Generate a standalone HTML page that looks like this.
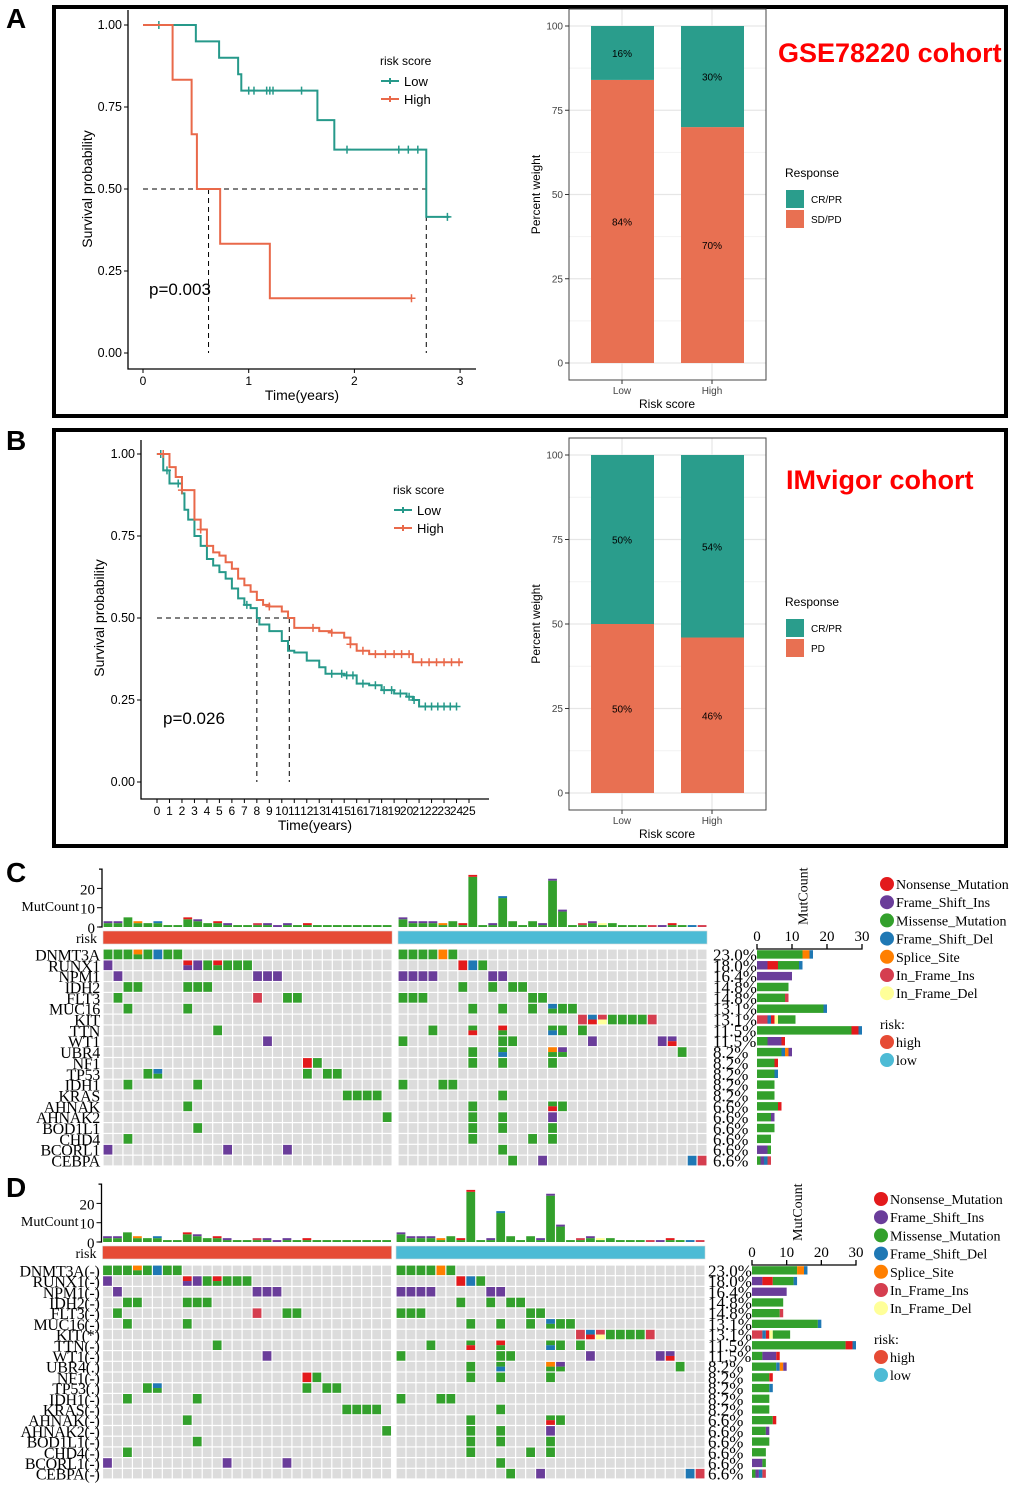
<!DOCTYPE html>
<html><head><meta charset="utf-8"><style>
body{margin:0;background:#fff;}
svg{display:block;}
.sans{font-family:"Liberation Sans",Arial,sans-serif;}
.serif{font-family:"Liberation Serif","Times New Roman",serif;}
</style></head>
<body>
<svg id="fig" width="1020" height="1491" viewBox="0 0 1020 1491" xmlns="http://www.w3.org/2000/svg">
<rect x="0" y="0" width="1020" height="1491" fill="#fff"/>
<rect x="54" y="7" width="952" height="409" fill="none" stroke="#000" stroke-width="4"/>
<rect x="54" y="430" width="952" height="416" fill="none" stroke="#000" stroke-width="4"/>
<text x="6" y="28" class="sans" font-size="28" font-weight="bold">A</text>
<text x="6" y="450" class="sans" font-size="28" font-weight="bold">B</text>
<text x="6" y="882" class="sans" font-size="28" font-weight="bold">C</text>
<text x="6" y="1197" class="sans" font-size="28" font-weight="bold">D</text>
<text x="778" y="62" class="sans" font-size="27" font-weight="bold" fill="#f00">GSE78220 cohort</text>
<text x="786" y="489" class="sans" font-size="27" font-weight="bold" fill="#f00">IMvigor cohort</text>
<g id="root"></g>
</svg>
<script>
// ---------- DATA ----------
const kmA_lowT=[0,0.5,0.72,0.9,0.93,1.65,1.81,2.68,2.9];
const kmA_lowS=[1,0.95,0.9,0.85,0.8,0.71,0.62,0.415,0.415];
const kmA_lowCensT=[0.15,1.0,1.05,1.17,1.2,1.23,1.5,1.93,2.42,2.51,2.6,2.88];
const kmA_highT=[0,0.28,0.46,0.51,0.73,1.2,2.54];
const kmA_highS=[1,0.833,0.667,0.5,0.333,0.167,0.167];
const kmA_highCensT=[2.54];
const kmA_medians=[0.62,2.68];
const kmA_xticks=[0,1,2,3];
const kmB_lowT=[0,0.5,1,2,2.2,2.5,3,3.5,4,4.5,5,5.5,6,6.5,7,7.5,8,8.2,9,10,10.5,11,12,13,13.5,15,16,17,18,19,20,20.5,21,24];
const kmB_lowS=[1,0.95,0.91,0.88,0.83,0.8,0.75,0.72,0.68,0.66,0.64,0.62,0.59,0.56,0.54,0.53,0.5,0.48,0.46,0.43,0.40,0.395,0.37,0.35,0.33,0.325,0.30,0.295,0.28,0.27,0.26,0.25,0.23,0.23];
const kmB_lowCensT=[0.3,0.8,1.7,7.2,14,14.8,15.2,15.7,16.5,17.5,18.2,18.8,19.5,20.2,20.6,21.5,22,22.5,23,23.5,24];
const kmB_highT=[0,1,1.5,2,3,3.5,4,4.5,5,5.5,6,6.5,7,7.5,8,8.5,9,10,10.5,11,12,13,14,15,15.5,16,17,20,20.5,24.5];
const kmB_highS=[1,0.96,0.93,0.89,0.8,0.77,0.72,0.70,0.69,0.67,0.65,0.62,0.6,0.58,0.555,0.54,0.535,0.52,0.5,0.47,0.47,0.46,0.455,0.44,0.42,0.40,0.39,0.39,0.365,0.365];
const kmB_highCensT=[0.5,2,3.5,9,12.5,14,15.5,16.5,17.5,18.3,19,19.6,20.2,21.2,21.8,22.4,23,23.6,24.2];
const kmB_medians=[8,10.6];
const kmB_xticks=[0,1,2,3,4,5,6,7,8,9,10,11,12,13,14,15,16,17,18,19,20,21,22,23,24,25];
const ytickKM=[0,0.25,0.5,0.75,1];
const barCats=["Low","High"];
const barA_cr=[16,30], barA_sd=[84,70];
const barB_cr=[50,54], barB_pd=[50,46];
const barTicks=[0,25,50,75,100];
const genes=["DNMT3A","RUNX1","NPM1","IDH2","FLT3","MUC16","KIT","TTN","WT1","UBR4","NF1","TP53","IDH1","KRAS","AHNAK","AHNAK2","BOD1L1","CHD4","BCORL1","CEBPA"];
const genesD=["DNMT3A(-)","RUNX1(-)","NPM1(-)","IDH2(-)","FLT3(-)","MUC16(-)","KIT(*)","TTN(-)","WT1(-)","UBR4(.)","NF1(-)","TP53(.)","IDH1(-)","KRAS(-)","AHNAK(-)","AHNAK2(-)","BOD1L1(-)","CHD4(-)","BCORL1(-)","CEBPA(-)"];
const pcts=["23.0%","18.0%","16.4%","14.8%","14.8%","13.1%","13.1%","11.5%","11.5%","8.2%","8.2%","8.2%","8.2%","8.2%","6.6%","6.6%","6.6%","6.6%","6.6%","6.6%"];
const highMut=[
{0:"M",1:"M",2:"M",3:"SM",4:"M",5:"D",6:"M",7:"M"},
{0:"F",8:"NF",9:"F",10:"M",11:"NM",12:"M",13:"M",14:"M"},
{1:"F",15:"F",16:"F",17:"F"},
{2:"M",3:"M",8:"M",9:"M",10:"M"},
{1:"M",15:"I",18:"M",19:"M"},
{2:"M",8:"M"},
{},
{11:"M"},
{16:"F"},
{},
{20:"N",21:"M"},
{4:"M",5:"DM",20:"M",22:"M",23:"M"},
{2:"M",9:"M"},
{24:"M",25:"M",26:"M",27:"M"},
{8:"M"},
{28:"M"},
{9:"M"},
{2:"M"},
{0:"F",12:"F",18:"F"},
{}];
const lowMut=[
{0:"M",1:"M",2:"M",3:"M",4:"S",5:"M"},
{6:"N",7:"D",8:"M"},
{0:"F",1:"F",2:"F",3:"F",9:"F",10:"F"},
{6:"M",9:"M",11:"M",12:"M"},
{0:"M",1:"M",2:"M",13:"M",14:"M"},
{7:"M",10:"M",13:"M",15:"DM",16:"M",17:"M"},
{18:"I",19:"DN",20:"IL",21:"M",22:"M",23:"M",24:"M",25:"I"},
{3:"M",7:"MN",10:"NM",15:"MD",16:"M",18:"M"},
{0:"M",10:"M",11:"M",19:"F",26:"F",27:"FN"},
{7:"M",10:"MD",15:"SM",16:"FM",28:"M"},
{7:"M",10:"M",15:"M"},
{},
{0:"M",4:"M",5:"M"},
{10:"M"},
{7:"M",15:"MN",16:"M"},
{7:"M",10:"M",15:"F"},
{7:"M",10:"M",15:"M"},
{7:"M",13:"M",15:"M"},
{10:"M"},
{11:"M",14:"F",29:"D",30:"I"}];
const highTmb=[3,3,5,3,2,3,1,1,5,4,2,3,2,1,1,2,2,1,2,1,2,1,1,1,1,1,1,1,1];
const highCap=["F","F","","S","","D","","","N","F","","N","F","","","I","F","F","F","","N","","","","","","","",""];
const lowTmb=[5,3,3,3,2,3,2,27,1,2,16,3,1,3,2,25,9,1,2,3,2,2,1,1,1,1,1,2,1,1,1];
const lowCap=["F","F","F","F","S","","N","N","","F","D","","","","F","F","F","","I","F","L","","","","","I","F","N","","D","I"];
const geneBars=[
[["M",13],["S",2],["D",1]],
[["F",3],["N",3],["M",6],["D",1]],
[["F",10]],
[["M",9]],
[["M",8],["I",1]],
[["M",19],["D",1]],
[["I",3],["D",1],["N",1],["L",1],["M",5]],
[["M",27],["N",2],["D",1]],
[["M",3],["F",4],["N",1]],
[["M",7],["D",1],["S",1],["F",1]],
[["M",5],["N",1]],
[["M",5],["D",1]],
[["M",5]],
[["M",5]],
[["M",6],["N",1]],
[["M",4],["F",1]],
[["M",5]],
[["M",4]],
[["F",3],["M",1]],
[["M",1],["F",1],["D",1],["I",1]]];
const mutTypes=["N","F","M","D","S","I","L"];
const mutNames=["Nonsense_Mutation","Frame_Shift_Ins","Missense_Mutation","Frame_Shift_Del","Splice_Site","In_Frame_Ins","In_Frame_Del"];
const mutColors={N:"#e31a1c",F:"#6a3d9a",M:"#33a02c",D:"#1f78b4",S:"#ff7f00",I:"#d53e4f",L:"#ffff99"};

const NS="http://www.w3.org/2000/svg";
const root=document.getElementById('root');
function mk(tag,attrs,parent,txt){const e=document.createElementNS(NS,tag);for(const k in attrs)e.setAttribute(k,attrs[k]);if(txt!==undefined)e.textContent=txt;(parent||root).appendChild(e);return e;}
const TEAL="#26998a",ORANGE="#e9694a",BTEAL="#2a9d8c",BOR="#e87052";

function km(cfg){
 const g=mk('g',{});
 
 
 const X=t=>cfg.x0+t*cfg.xs, Y=s=>cfg.y0-s*cfg.ys;
 const ax=mk('path',{d:`M${cfg.axL},${cfg.axT}V${cfg.axB}H${cfg.axR}`,stroke:"#000","stroke-width":1.3,fill:"none"},g);
 
 ytickKM.forEach(v=>{
  mk('line',{x1:cfg.axL-4,x2:cfg.axL,y1:Y(v),y2:Y(v),stroke:"#000"},g);
  const t=mk('text',{x:cfg.axL-6,y:Y(v)+4,"text-anchor":"end","font-size":12.5,class:"sans"},g,v.toFixed(2));
  
 });
 cfg.xticks.forEach(v=>{
  mk('line',{x1:X(v),x2:X(v),y1:cfg.axB,y2:cfg.axB+4,stroke:"#000"},g);
  const t=mk('text',{x:X(v),y:cfg.axB+16,"text-anchor":"middle","font-size":cfg.xfs,class:"sans"},g,String(v));
  
 });
 const xt=mk('text',{x:(cfg.axL+cfg.axR)/2,y:cfg.axB+31,"text-anchor":"middle","font-size":14,class:"sans"},g,"Time(years)");
 
 const yt=mk('text',{x:0,y:0,transform:`translate(${cfg.ytx},${(Y(0)+Y(1))/2}) rotate(-90)`,"text-anchor":"middle","font-size":14,class:"sans"},g,"Survival probability");
 
 const mx=Math.max(...cfg.med);
 const hl=mk('line',{x1:X(0),x2:X(mx),y1:Y(0.5),y2:Y(0.5),stroke:"#000","stroke-dasharray":"5,4"},g);
 
 cfg.med.forEach(m=>{const l=mk('line',{x1:X(m),x2:X(m),y1:Y(0.5),y2:Y(0),stroke:"#000","stroke-dasharray":"5,4"},g);
  });
 function curve(T,S,C,col,nm){
  let d=`M${X(T[0])},${Y(S[0])}`;
  for(let i=1;i<T.length;i++){d+=`H${X(T[i])}V${Y(S[i])}`;}
  const p=mk('path',{d,stroke:col,"stroke-width":2,fill:"none"},g);
  
  C.forEach(t=>{let s=S[0];for(let i=0;i<T.length;i++){if(T[i]<=t)s=S[i];}
   const c=mk('path',{d:`M${X(t)-4},${Y(s)}h8M${X(t)},${Y(s)-4}v8`,stroke:col,"stroke-width":1.5},g);
   });
 }
 curve(cfg.lowT,cfg.lowS,cfg.lowC,TEAL,'low');
 curve(cfg.highT,cfg.highS,cfg.highC,ORANGE,'high');
 const lg=mk('g',{},g);
 mk('text',{x:cfg.lx,y:cfg.ly,"font-size":12,class:"sans"},lg,"risk score");
 [["Low",TEAL],["High",ORANGE]].forEach((e,i)=>{const yy=cfg.ly+16+i*18;
  const le=mk('g',{},lg);
  mk('path',{d:`M${cfg.lx+1},${yy}h18M${cfg.lx+10},${yy-3}v6`,stroke:e[1],"stroke-width":2},le);
  mk('text',{x:cfg.lx+24,y:yy+5,"font-size":13,class:"sans"},le,e[0]);});
 const pv=mk('text',{x:cfg.px,y:cfg.py,"font-size":17,class:"sans"},g,cfg.p);
 
}
km({name:'km-plot-a',x0:143,xs:105.7,y0:353,ys:328,axL:128,axR:476,axT:10,axB:369,xticks:kmA_xticks,xfs:12,ytx:92,
 med:kmA_medians,lowT:kmA_lowT,lowS:kmA_lowS,lowC:kmA_lowCensT,highT:kmA_highT,highS:kmA_highS,highC:kmA_highCensT,lx:380,ly:65,p:"p=0.003",px:149,py:295});
km({name:'km-plot-b',x0:157,xs:12.48,y0:782,ys:328,axL:141,axR:489,axT:440,axB:799,xticks:kmB_xticks,xfs:12,ytx:104,
 med:kmB_medians,lowT:kmB_lowT,lowS:kmB_lowS,lowC:kmB_lowCensT,highT:kmB_highT,highS:kmB_highS,highC:kmB_highCensT,lx:393,ly:494,p:"p=0.026",px:163,py:724});

function bars(cfg){
 const g=mk('g',{});
 const Y=v=>cfg.y0-v*(cfg.y0-cfg.y100)/100;
 const L=569,R=766,T=cfg.top,B=cfg.bot;
 [12.5,37.5,62.5,87.5].forEach(v=>mk('line',{x1:L,x2:R,y1:Y(v),y2:Y(v),stroke:"#f2f2f2","stroke-width":1},g));
 barTicks.forEach(v=>mk('line',{x1:L,x2:R,y1:Y(v),y2:Y(v),stroke:"#e6e6e6","stroke-width":1.2},g));
 const cx=[622,712];
 cx.forEach(c=>mk('line',{x1:c,x2:c,y1:T,y2:B,stroke:"#e6e6e6","stroke-width":1.2},g));
 barCats.forEach((cat,i)=>{
  const bot=cfg.bottomVals[i], top=cfg.topVals[i];
  const r1=mk('rect',{x:cx[i]-31,y:Y(bot),width:63,height:Y(0)-Y(bot),fill:BOR},g);
  
  const r2=mk('rect',{x:cx[i]-31,y:Y(100),width:63,height:Y(bot)-Y(100),fill:BTEAL},g);
  
  mk('text',{x:cx[i],y:Y(bot/2)+4,"text-anchor":"middle","font-size":10,class:"sans"},g,bot+"%");
  mk('text',{x:cx[i],y:Y(bot+top/2)+4,"text-anchor":"middle","font-size":10,class:"sans"},g,top+"%");
  mk('line',{x1:cx[i],x2:cx[i],y1:B,y2:B+4,stroke:"#333"},g);
  const xl=mk('text',{x:cx[i],y:B+14,"text-anchor":"middle","font-size":10,fill:"#444",class:"sans"},g,cat);
  
 });
 mk('rect',{x:L,y:T,width:R-L,height:B-T,fill:"none",stroke:"#444","stroke-width":1},g);
 barTicks.forEach(v=>{mk('line',{x1:L-4,x2:L,y1:Y(v),y2:Y(v),stroke:"#333"},g);
  const t=mk('text',{x:L-6,y:Y(v)+3.5,"text-anchor":"end","font-size":10,fill:"#444",class:"sans"},g,String(v));
  });
 const xt=mk('text',{x:667,y:B+28,"text-anchor":"middle","font-size":12,class:"sans"},g,"Risk score");
 
 const yt=mk('text',{x:0,y:0,transform:`translate(540,${(T+B)/2}) rotate(-90)`,"text-anchor":"middle","font-size":12,class:"sans"},g,"Percent weight");
 
 const lg=mk('g',{},g);
 mk('text',{x:785,y:cfg.ly,"font-size":12,class:"sans"},lg,"Response");
 mk('rect',{x:786,y:cfg.ly+13,width:18,height:18,fill:BTEAL},lg);
 mk('text',{x:811,y:cfg.ly+26,"font-size":10,class:"sans"},lg,"CR/PR");
 mk('rect',{x:786,y:cfg.ly+33,width:18,height:18,fill:BOR},lg);
 mk('text',{x:811,y:cfg.ly+46,"font-size":10,class:"sans"},lg,cfg.botLabel);
}
bars({name:'response-bar-chart-a',y0:363,y100:26,top:9,bot:380,bottomVals:barA_sd,topVals:barA_cr,botKey:'sdpd',botLabel:'SD/PD',ly:177});
bars({name:'response-bar-chart-b',y0:793,y100:455,top:438,bot:810,bottomVals:barB_pd,topVals:barB_cr,botKey:'pd',botLabel:'PD',ly:606});

function onco(cfg){
 const g=mk('g',{});
 const cw=9.97, rh=cfg.rh;
 const unit=1.93;
 const z=cfg.zeroY;
 mk('path',{d:`M${cfg.hx0-4},${z-30*unit}H${cfg.hx0-1}V${z}H${cfg.hx0-4}`,stroke:"#000","stroke-width":1.3,fill:"none"},g);
 [0,10,20].forEach(v=>{mk('line',{x1:cfg.hx0-6,x2:cfg.hx0-1,y1:z-v*unit,y2:z-v*unit,stroke:"#000"},g);
  mk('text',{x:cfg.hx0-8,y:z-v*unit+6,"text-anchor":"end","font-size":15,class:"serif"},g,String(v));});
 const mc=mk('text',{x:cfg.hx0-24,y:z-16,"text-anchor":"end","font-size":14,class:"serif"},g,"MutCount");
 
 const rl=mk('text',{x:cfg.hx0-6,y:cfg.riskY+12,"text-anchor":"end","font-size":14,class:"serif"},g,"risk");
 
 function block(x0,muts,tmb,cap,riskCol,grp){
  const n=tmb.length;
  const rb=mk('rect',{x:x0,y:cfg.riskY,width:n*cw,height:13,fill:riskCol,stroke:"#ddd","stroke-width":0.6},g);
  
  for(let c=0;c<n;c++){
   const x=x0+c*cw+0.6,w=cw-1.2;
   const h=tmb[c]*unit;
   let capH=cap[c]?Math.min(h,unit):0;
   const b=mk('rect',{x,y:z-h+capH,width:w,height:h-capH,fill:mutColors.M},g);
   
   if(cap[c]){const b2=mk('rect',{x,y:z-h,width:w,height:capH,fill:mutColors[cap[c]]},g);
    }
   for(let r=0;r<genes.length;r++){
    const y=cfg.gridY+r*rh;
    const code=muts[r][c];
    const cell=mk('rect',{x,y:y+0.6,width:w,height:rh-1.2,fill:"#dcdcdc"},g);
    
    if(code){
     if(code.length===1){const m=mk('rect',{x,y:y+0.6,width:w,height:rh-1.2,fill:mutColors[code]},g);
      }
     else{const hh=(rh-1.2)/2;
      const m1=mk('rect',{x,y:y+0.6,width:w,height:hh,fill:mutColors[code[0]]},g);
      
      const m2=mk('rect',{x,y:y+0.6+hh,width:w,height:hh,fill:mutColors[code[1]]},g);
      }
    }
   }
  }
 }
 block(cfg.hx0,highMut,highTmb,highCap,"#e64b35","high");
 block(cfg.lx0,lowMut,lowTmb,lowCap,"#4dbbd5","low");
 cfg.labels.forEach((gname,r)=>{
  const y=cfg.gridY+r*rh+rh/2+6;
  const t=mk('text',{x:cfg.hx0-3,y,"text-anchor":"end","font-size":16,class:"serif","letter-spacing":"-0.3"},g,gname);
  
  const p=mk('text',{x:cfg.pctX,y,"font-size":17,class:"serif"},g,pcts[r]);
  
 });
 const bx=v=>cfg.bx0+v*(cfg.bx30-cfg.bx0)/30;
 mk('path',{d:`M${bx(0)},${cfg.baxY-5}V${cfg.baxY}H${bx(30)}V${cfg.baxY-5}M${bx(10)},${cfg.baxY-5}V${cfg.baxY}M${bx(20)},${cfg.baxY-5}V${cfg.baxY}`,stroke:"#000","stroke-width":1.3,fill:"none"},g);
 [0,10,20,30].forEach(v=>mk('text',{x:bx(v),y:cfg.baxY-8,"text-anchor":"middle","font-size":15,class:"serif"},g,String(v)));
 const rt=mk('text',{x:0,y:0,transform:`translate(${bx(15)-2},${cfg.baxY-24}) rotate(-90)`,"font-size":14,class:"serif"},g,"MutCount");
 
 geneBars.forEach((segs,r)=>{
  let acc=0;const y=cfg.gridY+r*rh+1.2;
  segs.forEach(s=>{const b=mk('rect',{x:bx(acc),y,width:bx(acc+s[1])-bx(acc),height:rh-2.4,fill:mutColors[s[0]]},g);
   acc+=s[1];});
 });
 const lg=mk('g',{},g);
 mutTypes.forEach((t,i)=>{const y=cfg.legY+i*18.2;
  const e=mk('g',{},lg);
  mk('circle',{cx:cfg.legX,cy:y,r:7,fill:mutColors[t]},e);
  mk('text',{x:cfg.legX+9,y:y+5,"font-size":14,class:"serif"},e,mutNames[i]);});
 const ry=cfg.legY+140;
 mk('text',{x:cfg.legX-7,y:ry+5,"font-size":14,class:"serif"},lg,"risk:");
 [["high","#e64b35"],["low","#4dbbd5"]].forEach((e,i)=>{const y=ry+18+i*18;
  mk('circle',{cx:cfg.legX,cy:y,r:7,fill:e[1]},lg);mk('text',{x:cfg.legX+9,y:y+5,"font-size":14,class:"serif"},lg,e[0]);});
}
onco({name:'oncoprint-c',hx0:103,lx0:398,gridY:949,rh:10.85,zeroY:927,riskY:931,pctX:713,bx0:757,bx30:862,baxY:949,legX:887,legY:884,labels:genes});
onco({name:'oncoprint-d',hx0:102.5,lx0:396,gridY:1265,rh:10.7,zeroY:1242,riskY:1246,pctX:708,bx0:752,bx30:856,baxY:1265,legX:881,legY:1199,labels:genesD});
</script>
</body></html>
